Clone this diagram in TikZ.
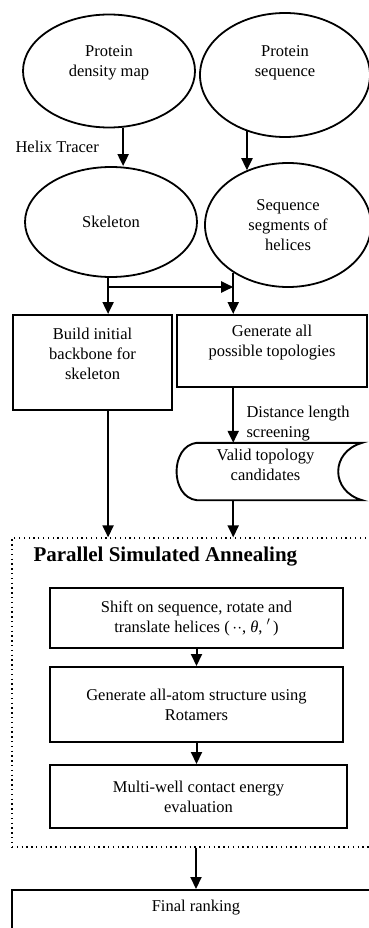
\documentclass[tikz,border=0pt]{standalone}
\usepackage{fontspec}
\setmainfont{Liberation Serif}
\usetikzlibrary{arrows.meta,shapes.geometric}

\begin{document}
\begin{tikzpicture}[x=1pt, y=-1pt, >={Triangle[width=11pt,length=12pt]},
    every node/.style={font=\fontsize{16.5}{20}\selectfont, align=center},
    oval/.style={draw, ellipse, line width=1.8pt, inner sep=0pt},
    frame/.style={draw, rectangle, line width=2pt, inner sep=0pt},
    flow/.style={->, line width=2pt}]

    \useasboundingbox (0,0) rectangle (369,928);
    \clip (0,0) rectangle (369,928);

    % inputs
    \node[oval, minimum width=172pt, minimum height=113pt] (map) at (109,71) {};
    \node (map-t) at ([yshift=8pt]map.center) {Protein\\density map};
    \node[oval, minimum width=170pt, minimum height=124pt] (seq) at (285,75) {};
    \node (seq-t) at ([yshift=12pt]seq.center) {Protein\\sequence};

    \node[oval, minimum width=172pt, minimum height=110pt] (skel) at (111,222) {Skeleton};
    \node[oval, minimum width=166pt, minimum height=124pt] (segs) at (288,225) {Sequence\\segments of\\helices};

    \draw[flow] (map.-76) -- (skel.north -| map.-76);
    \node[anchor=west] (tracer) at (12,147) {Helix Tracer};
    \draw[flow] (seq.-124) -- (seq.-124 |- segs.127);

    % fork
    \coordinate (mid) at (0,287);
    \coordinate (fork) at (skel.-93 |- mid);
    \coordinate (join) at (segs.-139 |- mid);

    \node[frame, minimum width=159pt, minimum height=95pt] (build) at (92.5,362.5) {};
    \node (build-t) at ([yshift=9pt]build.center) {Build initial\\backbone for\\skeleton};
    \node[frame, minimum width=190pt, minimum height=72pt] (gen) at (272,351) {};
    \node (gen-t) at ([yshift=8.5pt]gen.center) {Generate all\\possible topologies};

    \draw[flow] (skel.-93) -- (fork |- build.north);
    \draw[flow] (fork) -- (join);
    \draw[flow] (segs.-139) -- (join |- gen.north);

    % screening
    \node[inner sep=0pt, minimum width=165pt, minimum height=57pt] (valid) at (279.5,471.5) {};
    \draw[line width=1.9pt] (valid.north west) -- (valid.north east)
        .. controls +(-32,9) and +(-32,-9) .. (valid.south east)
        -- (valid.south west)
        .. controls +(-27,-3) and +(-27,3) .. (valid.north west) -- cycle;
    \node (valid-t) at ([shift={(-14pt,7pt)}]valid.center) {Valid topology\\candidates};

    \draw[flow] (gen.south -| join) -- (valid.north -| join);
    \node[anchor=west, align=left] (screen) at (243,423.5) {Distance length\\screening};

    % annealing
    \node[draw, rectangle, line width=1.3pt, dash pattern=on 1.3pt off 3.5pt,
          minimum width=368pt, minimum height=309pt] (psa) at (196,692.5) {};
    \node[anchor=west, font=\fontsize{21}{24}\selectfont\bfseries] (psa-t) at (30,557) {Parallel Simulated Annealing};

    \draw[flow] (build.south -| fork) -- (psa.north -| fork);
    \draw[flow] (valid.south -| join) -- (psa.north -| join);

    \node[frame, minimum width=293pt, minimum height=60pt] (shift) at (196.5,618)
        {Shift on sequence, rotate and\\translate helices (\,$\cdot\cdot$, \textit{θ}, $'$\,)};
    \node[frame, minimum width=293pt, minimum height=75pt] (atom) at (196.5,704.5)
        {Generate all-atom structure using\\Rotamers};
    \node[frame, minimum width=297pt, minimum height=63pt] (energy) at (198.5,796.5)
        {Multi-well contact energy\\evaluation};

    \draw[flow] (shift) -- (atom);
    \draw[flow] (atom.south) -- (atom.south |- energy.north);

    % result
    \node[frame, minimum width=368pt, minimum height=50pt] (final) at (196,915) {};
    \node (final-t) at ([yshift=7pt]final.center) {Final ranking};
    \draw[flow] (psa.south) -- (final.north);

\end{tikzpicture}
\end{document}
